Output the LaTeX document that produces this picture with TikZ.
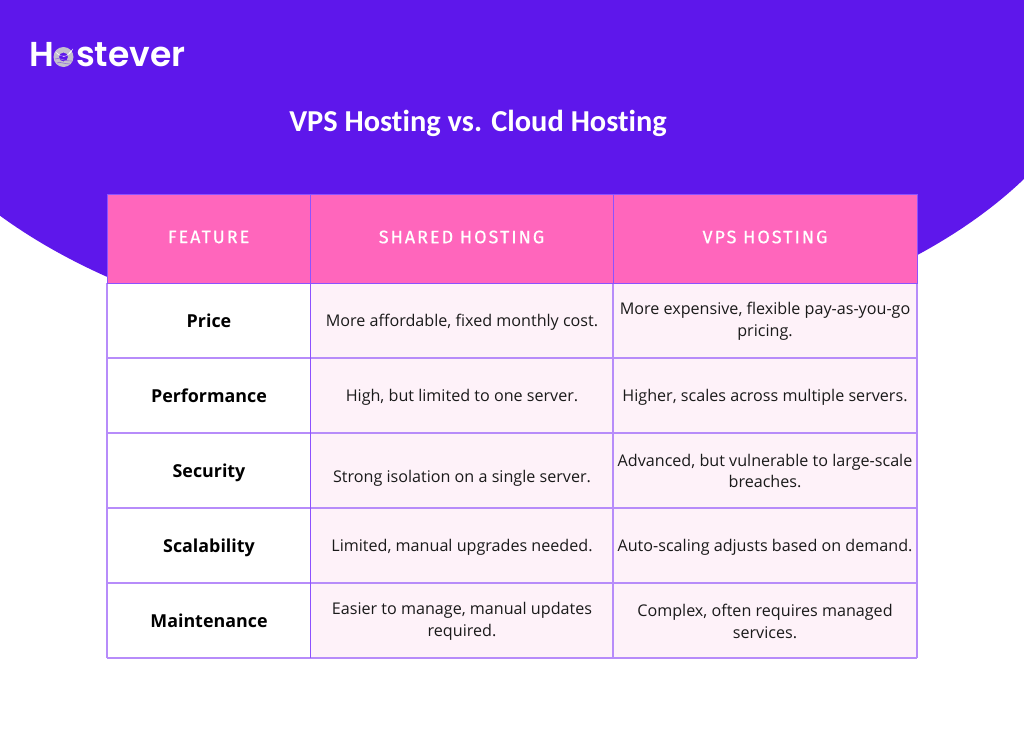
\documentclass[tikz,border=0pt]{standalone}
\usepackage{fontspec}
\setmainfont[Ligatures=NoCommon]{Carlito}
\newfontfamily\bodyf{Open Sans}
\newfontfamily\headf[LetterSpace=11,FakeBold=0.5]{Fira Sans}
\newfontfamily\logof{Poppins SemiBold}
\definecolor{vio}{HTML}{5E17EB}
\definecolor{pinkh}{HTML}{FF66BC}
\definecolor{pale}{HTML}{FEF2F9}
\definecolor{gridl}{HTML}{B78CFA}
\definecolor{gridd}{HTML}{8C52FF}
\definecolor{ink}{HTML}{1A1A1A}
\definecolor{ringg}{HTML}{C4C0CE}
\begin{document}
\begin{tikzpicture}[x=0.75pt,y=-0.75pt,
  hcell/.style={font=\headf\fontsize{13.5}{16}\selectfont,text=white,align=center,anchor=center},
  fcell/.style={font=\bodyf\bfseries\fontsize{13.4}{16}\selectfont,text=black,align=center,anchor=base},
  bcell/.style={font=\bodyf\fontsize{12.1}{16.4}\selectfont,text=ink,align=center,anchor=center},
  scell/.style={font=\bodyf\fontsize{12.1}{16.4}\selectfont,text=ink,align=center,anchor=base}]
\useasboundingbox (0,0) rectangle (1024,732);
\fill[white] (0,0) rectangle (1024,732);
\begin{scope}
\clip (0,0) rectangle (1024,732);
\fill[vio] (490,0) ellipse [x radius=620, y radius=352];
\end{scope}
% table fills
\fill[pinkh] (107,194) rectangle (917,283);
\fill[white] (107,283) rectangle (310,658);
\fill[pale] (310,283) rectangle (917,658);
% grid
\foreach \y in {358,433,508,583,658} \draw[gridl,line width=0.8pt] (107,\y) -- (917,\y);
\foreach \x in {107,613,917} \draw[gridl,line width=0.8pt] (\x,283) -- (\x,658);
\draw[gridd,line width=0.6pt] (107,194) rectangle (917,283);
\draw[gridd,line width=0.6pt] (310,194) -- (310,283) (613,194) -- (613,283);
\draw[gridd,line width=0.6pt] (310,283) -- (310,658);
% logo
\node[font=\logof\fontsize{25.9}{28}\selectfont,text=white,inner sep=0,anchor=base west] (logo) at (29,66) {H\phantom{o}stever};
\fill[ringg,even odd rule] (63.5,57) circle (10) (63.5,57) circle (4.5);
\fill[white] (55,51.5) arc (147:15:10) -- (69,53) -- (67.5,54.5) arc (30:140:4.5) -- cycle;
\draw[vio!45!ringg,line width=0.5pt] (55,59) .. controls (59,57) and (62,61) .. (72,61);
\draw[vio!45!ringg,line width=0.5pt] (57,63) .. controls (60,61) and (63,64) .. (70,64);
% title
\node[font=\bfseries\fontsize{22.8}{26}\selectfont,text=white,inner sep=0] (title) at (478,123) {VPS Hosting vs. Cloud Hosting};
% header
\node[hcell] (h1) at (208.5,237) {FEATURE};
\node[hcell] (h2) at (461.5,237) {SHARED HOSTING};
\node[hcell] (h3) at (765,237) {VPS HOSTING};
% first column
\node[fcell] (f1) at (209,327) {Price};
\node[fcell] (f2) at (209,402) {Performance};
\node[fcell] (f3) at (209,477) {Security};
\node[fcell] (f4) at (209,552) {Scalability};
\node[fcell] (f5) at (209,627) {Maintenance};
% second column
\node[scell] (s1) at (462,326) {More affordable, fixed monthly cost.};
\node[scell] (s2) at (462,401) {High, but limited to one server.};
\node[scell] (s3) at (462,482) {Strong isolation on a single server.};
\node[scell] (s4) at (462,551) {Limited, manual upgrades needed.};
\node[bcell] (s5) at (462,621) {Easier to manage, manual updates\\required.};
% third column
\node[bcell] (v1) at (765,321.5) {More expensive, flexible pay-as-you-go\\pricing.};
\node[scell] (v2) at (765,401) {Higher, scales across multiple servers.};
\node[bcell] (v3) at (765,471) {Advanced, but vulnerable to large-scale\\breaches.};
\node[scell] (v4) at (765,551) {Auto-scaling adjusts based on demand.};
\node[bcell] (v5) at (765,621) {Complex, often requires managed\\services.};
\end{tikzpicture}
\end{document}
